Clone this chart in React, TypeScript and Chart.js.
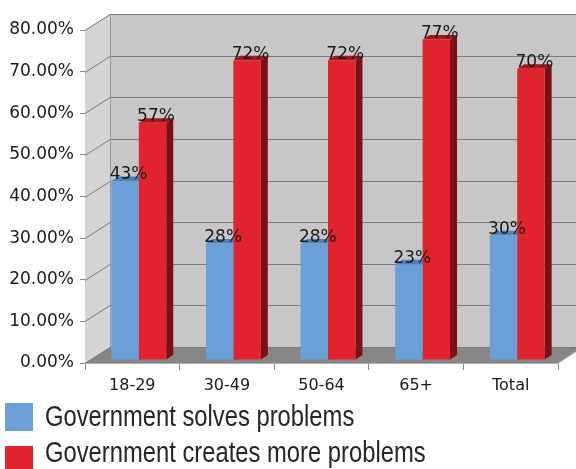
import React, { useEffect, useRef } from "react";
import { Chart, registerables } from "chart.js";

Chart.register(...registerables);

const categories = ["18-29", "30-49", "50-64", "65+", "Total"];
const solvesValues = [43, 28, 28, 23, 30];
const createsValues = [57, 72, 72, 77, 70];
const seriesNames = ["Government solves problems", "Government creates more problems"];
const seriesColors = ["#6a9fd8", "#e0232d"];
const sideColors = ["#44709f", "#7b1116"];
const topColors = ["#4f80b8", "#a3161d"];

const WALL_DX = 25;
const WALL_DY = -16;
const BAR_SHIFT_X = 6.5;
const BAR_SHIFT_Y = -3;
const FACE_DX = 7;
const FACE_DY = -4.5;

const wallPlugin = {
  id: "wall3d",
  beforeDatasetsDraw(chart: any) {
    const { ctx, chartArea } = chart;
    const y = chart.scales.y;
    const { left, right, top, bottom } = chartArea;
    ctx.save();
    // back wall
    ctx.fillStyle = "#c7c7c7";
    ctx.fillRect(left + WALL_DX, top + WALL_DY, right - left + 40, bottom - top);
    // left side wall
    ctx.fillStyle = "#d4d4d4";
    ctx.beginPath();
    ctx.moveTo(left, top);
    ctx.lineTo(left + WALL_DX, top + WALL_DY);
    ctx.lineTo(left + WALL_DX, bottom + WALL_DY);
    ctx.lineTo(left, bottom);
    ctx.closePath();
    ctx.fill();
    // floor
    ctx.fillStyle = "#868686";
    ctx.beginPath();
    ctx.moveTo(left, bottom);
    ctx.lineTo(right, bottom);
    ctx.lineTo(right + WALL_DX, bottom + WALL_DY);
    ctx.lineTo(left + WALL_DX, bottom + WALL_DY);
    ctx.closePath();
    ctx.fill();
    // gridlines
    ctx.strokeStyle = "#7a7a7a";
    ctx.lineWidth = 1;
    y.ticks.forEach((t: any) => {
      const py = Math.round(y.getPixelForValue(t.value)) + 0.5;
      ctx.beginPath();
      ctx.moveTo(left, py);
      ctx.lineTo(left + WALL_DX, py + WALL_DY);
      ctx.lineTo(right + WALL_DX + 40, py + WALL_DY);
      ctx.stroke();
    });
    // back wall left edge
    ctx.strokeStyle = "#9a9a9a";
    ctx.beginPath();
    ctx.moveTo(left + WALL_DX + 0.5, top + WALL_DY);
    ctx.lineTo(left + WALL_DX + 0.5, bottom + WALL_DY);
    ctx.stroke();
    // floor front edge
    ctx.strokeStyle = "#b0b0b0";
    ctx.beginPath();
    ctx.moveTo(left, bottom + 0.5);
    ctx.lineTo(right, bottom + 0.5);
    ctx.lineTo(right + WALL_DX, bottom + WALL_DY);
    ctx.stroke();

    // bar side and top faces (drawn behind fronts)
    ctx.translate(BAR_SHIFT_X, BAR_SHIFT_Y);
    chart.data.datasets.forEach((ds: any, di: number) => {
      const meta = chart.getDatasetMeta(di);
      meta.data.forEach((bar: any) => {
        const props = bar.getProps(["x", "y", "base", "width"], true);
        const xl = props.x - props.width / 2;
        const xr = props.x + props.width / 2;
        const tp = props.y;
        const bt = props.base;
        ctx.fillStyle = sideColors[di];
        ctx.beginPath();
        ctx.moveTo(xr, tp);
        ctx.lineTo(xr + FACE_DX, tp + FACE_DY);
        ctx.lineTo(xr + FACE_DX, bt + FACE_DY);
        ctx.lineTo(xr, bt);
        ctx.closePath();
        ctx.fill();
        ctx.fillStyle = topColors[di];
        ctx.beginPath();
        ctx.moveTo(xl, tp);
        ctx.lineTo(xl + FACE_DX, tp + FACE_DY);
        ctx.lineTo(xr + FACE_DX, tp + FACE_DY);
        ctx.lineTo(xr, tp);
        ctx.closePath();
        ctx.fill();
      });
    });
  },
  afterDatasetsDraw(chart: any) {
    const { ctx } = chart;
    ctx.restore();
    ctx.save();
    ctx.translate(BAR_SHIFT_X, BAR_SHIFT_Y);
    ctx.fillStyle = "#1a1a1a";
    ctx.font = '17px "DejaVu Sans"';
    ctx.textAlign = "center";
    ctx.textBaseline = "middle";
    chart.data.datasets.forEach((ds: any, di: number) => {
      const meta = chart.getDatasetMeta(di);
      meta.data.forEach((bar: any, i: number) => {
        const props = bar.getProps(["x", "y"], true);
        ctx.fillText(Math.round(ds.data[i]) + "%", props.x + FACE_DX / 2, props.y - 6);
      });
    });
    ctx.restore();
  },
  afterDraw(chart: any) {
    const { ctx } = chart;
    ctx.save();
    const probe = "Government solves problems";
    ctx.font = '29px "Liberation Sans Narrow", monospace';
    const w1 = ctx.measureText(probe).width;
    ctx.font = "29px monospace";
    const w2 = ctx.measureText(probe).width;
    const hasNarrow = Math.abs(w1 - w2) > 0.5;
    const rows = [
      { boxTop: 403, baseline: 426 },
      { boxTop: 446, baseline: 462 },
    ];
    chart.data.datasets.forEach((ds: any, di: number) => {
      const r = rows[di];
      ctx.fillStyle = ds.backgroundColor;
      ctx.fillRect(5, r.boxTop, 28, 28);
      ctx.fillStyle = "#262626";
      ctx.textAlign = "left";
      ctx.textBaseline = "alphabetic";
      if (hasNarrow) {
        ctx.font = '29px "Liberation Sans Narrow"';
        ctx.fillText(ds.label, 45, r.baseline);
      } else {
        ctx.save();
        ctx.font = '29px "Liberation Sans"';
        ctx.translate(45, r.baseline);
        ctx.scale(0.82, 1);
        ctx.fillText(ds.label, 0, 0);
        ctx.restore();
      }
    });
    ctx.restore();
  },
};

export default function App() {
  const canvasRef = useRef<HTMLCanvasElement | null>(null);
  useEffect(() => {
    document.body.style.margin = "0";
    const canvas = canvasRef.current;
    if (!canvas) return;
    const chart = new Chart(canvas, {
      type: "bar",
      data: {
        labels: categories,
        datasets: [
          {
            label: seriesNames[0],
            data: solvesValues,
            backgroundColor: seriesColors[0],
            categoryPercentage: 0.58,
            barPercentage: 1,
            clip: false as any,
          },
          {
            label: seriesNames[1],
            data: createsValues,
            backgroundColor: seriesColors[1],
            categoryPercentage: 0.58,
            barPercentage: 1,
            clip: false as any,
          },
        ],
      },
      options: {
        responsive: false,
        animation: false,
        layout: { padding: { top: 30, right: 18, left: 0, bottom: 0 } },
        plugins: {
          legend: { display: false },
          tooltip: { enabled: false },
        },
        scales: {
          x: {
            afterFit: (s: any) => {
              s.height = 106;
            },
            grid: {
              display: true,
              drawOnChartArea: false,
              tickLength: 7,
              color: "#8a8a8a",
            },
            border: { display: false },
            ticks: {
              color: "#1a1a1a",
              font: { family: "DejaVu Sans", size: 16 },
              padding: 6,
              maxRotation: 0,
            },
          },
          y: {
            min: 0,
            max: 80,
            afterFit: (s: any) => {
              s.width = 85;
            },
            grid: {
              display: true,
              drawOnChartArea: false,
              tickLength: 5,
              color: "#8a8a8a",
            },
            border: { display: true, color: "#8a8a8a" },
            ticks: {
              stepSize: 10,
              color: "#1a1a1a",
              font: { family: "DejaVu Sans", size: 17 },
              padding: 6,
              callback: (v: any) => Number(v).toFixed(2) + "%",
            },
          },
        },
      },
      plugins: [wallPlugin],
    });
    return () => chart.destroy();
  }, []);
  return <canvas ref={canvasRef} width={576} height={469} style={{ display: "block" }} />;
}
